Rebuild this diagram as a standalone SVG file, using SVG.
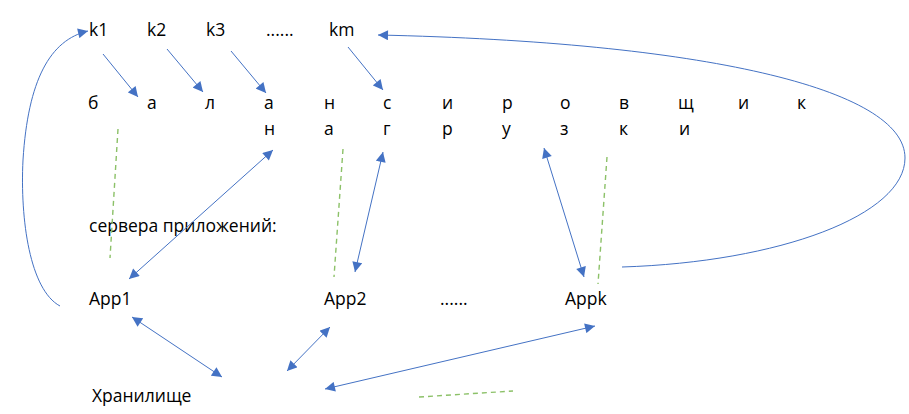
<svg xmlns="http://www.w3.org/2000/svg" width="909" height="414" viewBox="0 0 909 414">
<style>
text{font-family:"Open Sans","Liberation Sans",sans-serif;font-size:17.5px;fill:#000}
.c{fill:none;stroke:#4472C4;stroke-width:1}
.d{fill:none;stroke:#8CC168;stroke-width:1.4;stroke-dasharray:5,4}
</style>
<defs>
<marker id="ah" viewBox="0 0 10 10" refX="10" refY="5" markerWidth="11" markerHeight="10" markerUnits="userSpaceOnUse" orient="auto-start-reverse">
<path d="M0,0 L10,5 L0,10 Z" fill="#4472C4"/>
</marker>
</defs>
<rect width="909" height="414" fill="#fff"/>
<g id="keys">
<text x="89" y="36">k1</text>
<text x="147" y="36">k2</text>
<text x="206" y="36">k3</text>
<text x="266" y="36">......</text>
<text x="329" y="36">km</text>
</g>
<g id="balancer">
<text x="88" y="109">б</text>
<text x="147" y="109">а</text>
<text x="205" y="109">л</text>
<text x="264" y="109">а</text>
<text x="324" y="109">н</text>
<text x="383" y="109">с</text>
<text x="442" y="109">и</text>
<text x="502" y="109">р</text>
<text x="560" y="109">о</text>
<text x="619" y="109">в</text>
<text x="678" y="109">щ</text>
<text x="738" y="109">и</text>
<text x="797" y="109">к</text>
<text x="264" y="135">н</text>
<text x="324" y="135">а</text>
<text x="383" y="135">г</text>
<text x="442" y="135">р</text>
<text x="502" y="135">у</text>
<text x="560" y="135">з</text>
<text x="619" y="135">к</text>
<text x="679" y="135">и</text>
</g>
<g id="label"><text x="89" y="232">сервера приложений:</text></g>
<g id="app1"><text x="89" y="305">App1</text></g>
<g id="app2"><text x="324" y="305">App2</text></g>
<g id="dots"><text x="440" y="305">......</text></g>
<g id="appk"><text x="565" y="305">Appk</text></g>
<g id="storage"><text x="92" y="402">Хранилище</text></g>
<g id="connectors">
<line class="c" x1="103" y1="54" x2="138" y2="97" marker-end="url(#ah)"/>
<line class="c" x1="167" y1="49" x2="203" y2="92" marker-end="url(#ah)"/>
<line class="c" x1="231" y1="51" x2="266" y2="93" marker-end="url(#ah)"/>
<line class="c" x1="348" y1="47" x2="383" y2="90" marker-end="url(#ah)"/>
<path class="c" d="M622,267 C780,262 905,215 905,158 C905,88 700,42 378,35" marker-end="url(#ah)"/>
<path class="c" d="M60,306 C30,290 20,220 23,160 C28,80 50,40 88,31" marker-end="url(#ah)"/>
<line class="c" x1="129" y1="279" x2="273" y2="150" marker-start="url(#ah)" marker-end="url(#ah)"/>
<line class="c" x1="355" y1="272" x2="383" y2="152" marker-start="url(#ah)" marker-end="url(#ah)"/>
<line class="c" x1="584" y1="277" x2="544" y2="148" marker-start="url(#ah)" marker-end="url(#ah)"/>
<line class="c" x1="132" y1="317" x2="222" y2="377" marker-start="url(#ah)" marker-end="url(#ah)"/>
<line class="c" x1="287" y1="371" x2="330" y2="327" marker-start="url(#ah)" marker-end="url(#ah)"/>
<line class="c" x1="325" y1="389" x2="595" y2="326" marker-start="url(#ah)" marker-end="url(#ah)"/>
<line class="d" x1="118" y1="129" x2="110" y2="258"/>
<line class="d" x1="343" y1="149" x2="334" y2="277"/>
<line class="d" x1="607" y1="157" x2="598" y2="284"/>
<line class="d" x1="419" y1="397" x2="513" y2="391"/>
</g>
</svg>
